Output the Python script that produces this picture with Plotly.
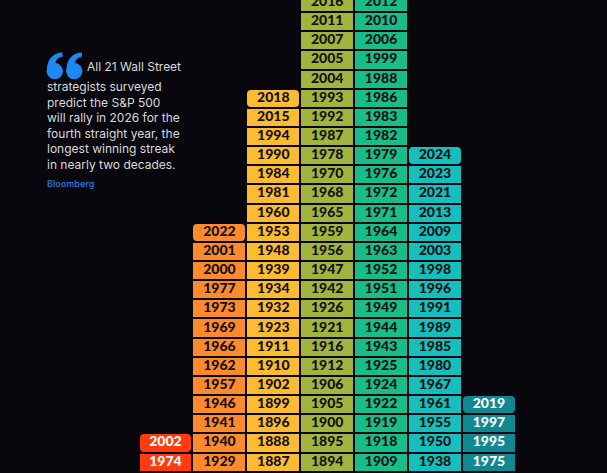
import plotly.graph_objects as go

# Years stacked per return bucket (bottom to top)
col_red = [1974, 2002]
col_orange = [1929, 1940, 1941, 1946, 1957, 1962, 1966, 1969, 1973, 1977, 2000, 2001, 2022]
col_yellow = [1887, 1888, 1896, 1899, 1902, 1910, 1911, 1923, 1932, 1934, 1939, 1948,
              1953, 1960, 1981, 1984, 1990, 1994, 2015, 2018]
col_olive = [1894, 1895, 1900, 1905, 1906, 1912, 1916, 1921, 1926, 1942, 1947, 1956,
             1959, 1965, 1968, 1970, 1978, 1987, 1992, 1993, 2004, 2005, 2007, 2011, 2016]
col_green = [1909, 1918, 1919, 1922, 1924, 1925, 1943, 1944, 1949, 1951, 1952, 1963,
             1964, 1971, 1972, 1976, 1979, 1982, 1983, 1986, 1988, 1999, 2006, 2010, 2012]
col_teal = [1938, 1950, 1955, 1961, 1967, 1980, 1985, 1989, 1991, 1996, 1998, 2003,
            2009, 2013, 2021, 2023, 2024]
col_dark = [1975, 1995, 1997, 2019]

columns = [col_red, col_orange, col_yellow, col_olive, col_green, col_teal, col_dark]
fill_colors = ["#FF3B0F", "#FF8A2B", "#FDBB30", "#A2B43E", "#18BD8A", "#14BFBE", "#0F8891"]
text_colors = ["#FFFFFF", "#111111", "#111111", "#111111", "#111111", "#111111", "#FFFFFF"]
clipped_top = [False, False, False, True, True, False, False]

quote_lines = ["All 21 Wall Street", "strategists surveyed", "predict the S&P 500",
               "will rally in 2026 for the", "fourth straight year, the",
               "longest winning streak", "in nearly two decades."]
source = "Bloomberg"

BG = "#07070D"
W, H = 607, 473

fig = go.Figure()
for i, (years, fc, tc, clip) in enumerate(zip(columns, fill_colors, text_colors, clipped_top)):
    n = len(years)
    body = n if clip else n - 1
    if body > 0:
        fig.add_trace(go.Bar(x=[i] * body, y=[1] * body, base=list(range(body)), width=1,
                             marker=dict(color=fc, line=dict(color=BG, width=2)),
                             hoverinfo="skip", showlegend=False))
    if not clip:
        fig.add_trace(go.Bar(x=[i], y=[1], base=[n - 1], width=1,
                             marker=dict(color=fc, line=dict(color=BG, width=2), cornerradius=5),
                             hoverinfo="skip", showlegend=False))
    fig.add_trace(go.Scatter(x=[i] * n, y=[k + 0.5 for k in range(n)], mode="text",
                             text=[str(y) for y in years],
                             textfont=dict(family="Lato", size=14, color=tc, weight=900),
                             hoverinfo="skip", showlegend=False))

# quote text
fig.add_annotation(xref="paper", yref="paper", x=85 / W, y=1 - 76 / H, xanchor="left",
                   yanchor="bottom", text=quote_lines[0], showarrow=False,
                   font=dict(family="Inter", size=12, color="#DADADA"))
fig.add_annotation(xref="paper", yref="paper", x=45 / W, y=1 - 77 / H, xanchor="left",
                   yanchor="top", text="<br>".join(quote_lines[1:]), showarrow=False,
                   align="left", font=dict(family="Inter", size=12, color="#DADADA"))
fig.add_annotation(xref="paper", yref="paper", x=45 / W, y=1 - 176 / H, xanchor="left",
                   yanchor="top", text=source, showarrow=False,
                   font=dict(family="Inter", size=9, color="#1E74CF", weight=600))


# decorative quotation mark, drawn in page pixels converted to paper units
def P(px, py):
    return f"{px / W:.5f},{1 - py / H:.5f}"


QCOL = "#1E88F5"
for ox in (46.7, 66.2):
    r = 8.1
    cx, cy = ox + r, 79.3 - r
    fig.add_shape(type="circle", xref="paper", yref="paper",
                  x0=(cx - r) / W, x1=(cx + r) / W, y0=1 - (cy + r) / H, y1=1 - (cy - r) / H,
                  fillcolor=QCOL, line=dict(width=0))
    path = (f"M{P(ox + 0.2, cy + 1)} C{P(ox - 0.5, 61)} {P(ox + 5, 53.5)} {P(ox + 15.5, 52.3)} "
            f"L{P(ox + 16, 56.5)} C{P(ox + 11.5, 57.5)} {P(ox + 8.5, 60)} {P(ox + 8.8, cy - r + 1)} Z")
    fig.add_shape(type="path", xref="paper", yref="paper", path=path,
                  fillcolor=QCOL, line=dict(width=0))

sx = 53.9
sy = 19.15
x0 = -165.5 / sx
fig.update_layout(
    width=W, height=H, margin=dict(l=0, r=0, t=0, b=0),
    paper_bgcolor=BG, plot_bgcolor=BG, barmode="overlay", bargap=0,
    xaxis=dict(range=[x0, x0 + W / sx], visible=False, fixedrange=True),
    yaxis=dict(range=[(471.65 - H) / sy, 471.65 / sy], visible=False, fixedrange=True),
)
fig.write_html("out.html", config={"displayModeBar": False},
               post_script="document.body.style.margin='0';document.body.style.overflow='hidden';"
                           "document.body.style.background='" + BG + "';")
